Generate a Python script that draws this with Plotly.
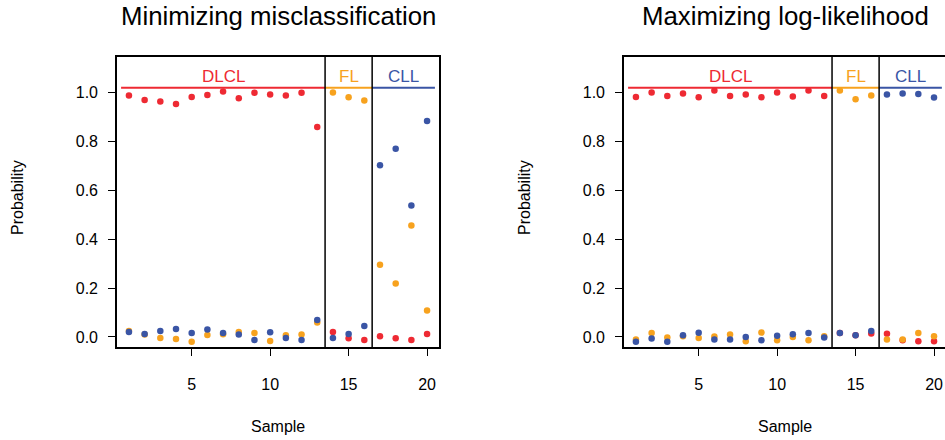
import plotly.graph_objects as go

samples = list(range(1, 21))

# Left panel: Minimizing misclassification (jittered probabilities)
mis_dlcl = [0.988, 0.970, 0.964, 0.954, 0.982, 0.990, 1.005, 0.977, 1.000, 0.992, 0.988, 1.000, 0.859,
            0.020, -0.005, -0.012, 0.003, -0.005, -0.012, 0.012]
mis_fl = [0.025, 0.010, -0.004, -0.008, -0.019, 0.008, 0.011, 0.020, 0.016, -0.016, 0.007, 0.010, 0.059,
          1.001, 0.981, 0.968, 0.296, 0.219, 0.456, 0.108]
mis_cll = [0.020, 0.012, 0.025, 0.033, 0.016, 0.031, 0.016, 0.010, -0.012, 0.019, -0.004, -0.012, 0.070,
           -0.004, 0.012, 0.045, 0.703, 0.770, 0.538, 0.884]

# Right panel: Maximizing log-likelihood
ll_dlcl = [0.982, 1.001, 0.986, 0.997, 0.981, 1.009, 0.986, 0.992, 0.981, 1.001, 0.984, 1.009, 0.986,
           0.016, 0.007, 0.014, 0.013, -0.013, -0.017, -0.017]
ll_fl = [-0.010, 0.016, -0.002, 0.003, -0.004, 0.002, 0.010, -0.017, 0.018, -0.013, 0.000, -0.013, 0.003,
         1.009, 0.973, 0.988, -0.010, -0.010, 0.016, 0.003]
ll_cll = [-0.020, -0.006, -0.020, 0.007, 0.017, -0.010, -0.010, 0.000, -0.013, 0.005, 0.011, 0.016, -0.002,
          0.016, 0.007, 0.024, 0.992, 0.997, 0.995, 0.980]

classes = ["DLCL", "FL", "CLL"]
class_start = [0.5, 13.5, 16.5]
class_end = [13.5, 16.5, 20.5]
class_colors = ["#EE2A33", "#F7A21E", "#3A55A5"]
titles = ["Minimizing misclassification", "Maximizing log-likelihood"]
y_ticks = [0.0, 0.2, 0.4, 0.6, 0.8, 1.0]
x_ticks = [5, 10, 15, 20]
class_line_level = 1.02
class_label_level = 1.067

FONT = "Liberation Sans, Arial, Helvetica, sans-serif"
W, H = 945, 440

fig = go.Figure()

panels = [
    ("x", "y", [mis_dlcl, mis_fl, mis_cll]),
    ("x2", "y2", [ll_dlcl, ll_fl, ll_cll]),
]
for xa, ya, series in panels:
    for vals, col, name in zip(series, class_colors, classes):
        fig.add_trace(go.Scatter(x=samples, y=vals, mode="markers", xaxis=xa, yaxis=ya,
                                 marker=dict(color=col, size=6.5, line=dict(width=0)),
                                 name=name, showlegend=False))
    for s, e, col, name in zip(class_start, class_end, class_colors, classes):
        fig.add_shape(type="line", xref=xa, yref=ya, x0=s, x1=e, y0=class_line_level, y1=class_line_level,
                      line=dict(color=col, width=2))
        fig.add_annotation(xref=xa, yref=ya, x=(s + e) / 2, y=class_label_level, text=name, showarrow=False,
                           font=dict(family=FONT, size=17, color=col), xanchor="center", yanchor="middle")
    for b in class_start[1:]:
        fig.add_shape(type="line", xref=xa, yref=ya + " domain", x0=b, x1=b, y0=0, y1=1,
                      line=dict(color="black", width=1.5))

y_dom = [(H - 347) / H, (H - 57) / H]
axis_common = dict(showgrid=False, zeroline=False, showline=True, linecolor="black", linewidth=1.6,
                   ticks="outside", ticklen=7, tickwidth=1, tickcolor="black",
                   tickfont=dict(family=FONT, size=16, color="black"))

fig.update_layout(
    width=W, height=H, margin=dict(l=0, r=0, t=0, b=0),
    paper_bgcolor="white", plot_bgcolor="white",
    xaxis=dict(domain=[117 / W, 439 / W], range=[0.24, 20.76], tickvals=x_ticks, mirror=True,
               ticklabelstandoff=15, anchor="y", **axis_common),
    yaxis=dict(domain=y_dom, range=[-0.041, 1.146], tickvals=y_ticks, tickformat=".1f", mirror=True,
               ticklabelstandoff=7, anchor="x", **axis_common),
    xaxis2=dict(domain=[624 / W, 1.0], range=[0.24, 20.70], tickvals=x_ticks, mirror=True,
                ticklabelstandoff=15, anchor="y2", **axis_common),
    yaxis2=dict(domain=y_dom, range=[-0.041, 1.146], tickvals=y_ticks, tickformat=".1f", mirror=False,
                ticklabelstandoff=7, anchor="x2", **axis_common),
)

centers = [278, 785]
for c, t in zip(centers, titles):
    fig.add_annotation(xref="paper", yref="paper", x=c / W, y=(H - 16) / H, text=t, showarrow=False,
                       font=dict(family=FONT, size=25.8, color="black"), xanchor="center", yanchor="middle")
    fig.add_annotation(xref="paper", yref="paper", x=c / W, y=(H - 426) / H, text="Sample", showarrow=False,
                       font=dict(family=FONT, size=16, color="black"), xanchor="center", yanchor="middle")
for xc in [18, 525]:
    fig.add_annotation(xref="paper", yref="paper", x=xc / W, y=(H - 198) / H, text="Probability",
                       showarrow=False, textangle=-90,
                       font=dict(family=FONT, size=16, color="black"), xanchor="center", yanchor="middle")

fig.write_html("out.html")
